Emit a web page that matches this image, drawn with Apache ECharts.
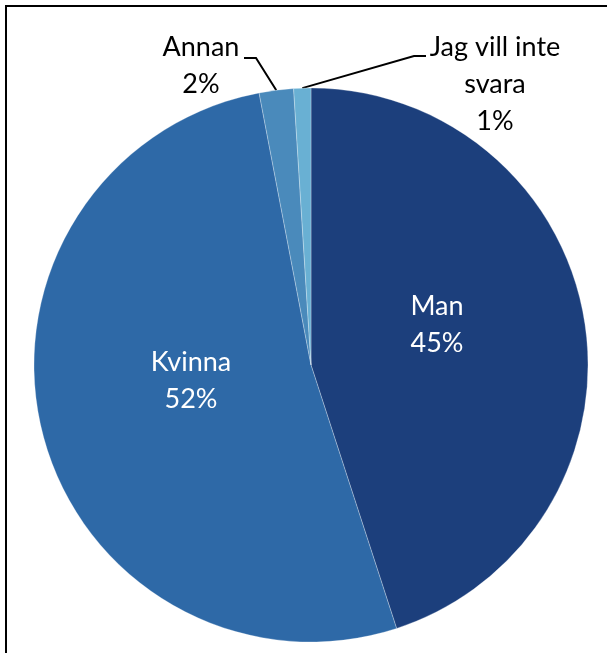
<!DOCTYPE html>
<html>
<head>
<meta charset="utf-8">
<script src="https://cdn.jsdelivr.net/npm/echarts@6/dist/echarts.min.js"></script>
<style>
  html, body { margin: 0; padding: 0; background: #fff; }
  #chart { width: 607px; height: 653px; }
</style>
</head>
<body>
<div id="chart"></div>
<script>
// Gender distribution of respondents
const categories = ['Man', 'Kvinna', 'Annan', 'Jag vill inte svara'];
const labelNames = ['Man', 'Kvinna', 'Annan', 'Jag vill inte\nsvara'];
const percentages = [45, 52, 2, 1];
const sliceColors = ['#1c3f7c', '#2e69a7', '#4a8abb', '#69b0d3'];

// label anchor points (centre of each text block)
const labelSpots = [
  { x: 437, y: 325 },
  { x: 191, y: 381 },
  { x: 201, y: 66 },
  { x: 495, y: 84 }
];
// leader-line elbow points for the two small slices
const leaderElbows = {
  2: [[256, 58], [244, 58]],
  3: [[414, 56], [426, 56]]
};

const chart = echarts.init(document.getElementById('chart'), null, { renderer: 'canvas' });

const data = categories.map((c, i) => ({
  name: c,
  value: percentages[i],
  itemStyle: { color: sliceColors[i] },
  label: {
    position: i < 2 ? 'inside' : 'outside',
    color: i < 2 ? '#ffffff' : '#000000',
    formatter: labelNames[i] + '\n' + percentages[i] + '%'
  },
  labelLine: { show: i >= 2 }
}));

chart.setOption({
  animation: false,
  graphic: [{
    type: 'rect',
    shape: { x: 6, y: 6, width: 700, height: 700 },
    style: { fill: 'none', stroke: '#000', lineWidth: 2 },
    silent: true
  }],
  series: [{
    type: 'pie',
    center: [311, 365],
    radius: 277,
    startAngle: 90,
    clockwise: true,
    data: data,
    itemStyle: { borderColor: 'rgba(255,255,255,0.35)', borderWidth: 0.8 },
    label: {
      show: true,
      fontFamily: 'Lato',
      fontSize: 27,
      lineHeight: 37,
      align: 'center'
    },
    labelLine: {
      show: true,
      length: 10,
      length2: 10,
      lineStyle: { color: '#000', width: 2 }
    },
    labelLayout: function (p) {
      const s = labelSpots[p.dataIndex];
      const out = { x: s.x, y: s.y, align: 'center', verticalAlign: 'middle', draggable: false };
      const elbow = leaderElbows[p.dataIndex];
      if (elbow && p.labelLinePoints) {
        out.labelLinePoints = [p.labelLinePoints[0]].concat(elbow);
      }
      return out;
    }
  }]
});
</script>
</body>
</html>
